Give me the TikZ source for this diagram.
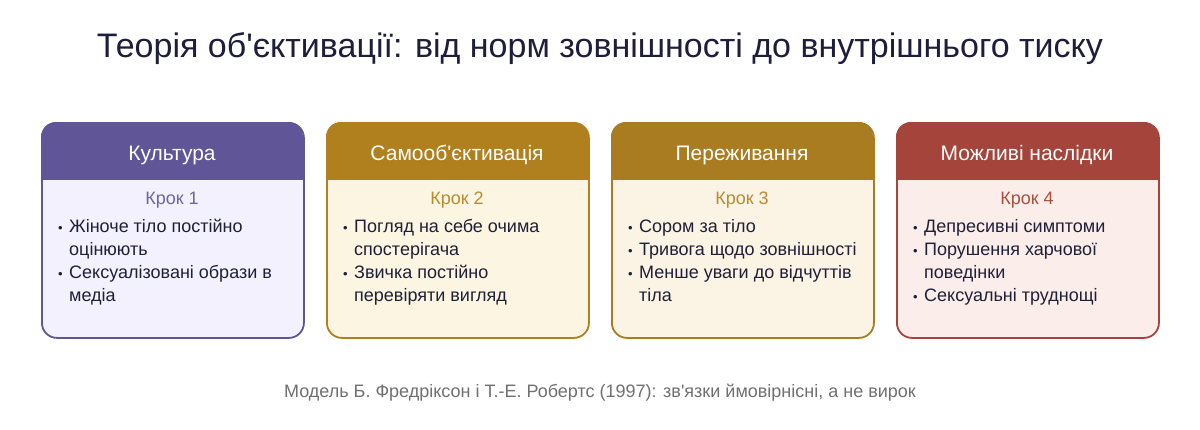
\documentclass[tikz,border=0pt]{standalone}
\usepackage{fontspec}
\setmainfont{Liberation Sans}[Ligatures=TeXOff]
\definecolor{titlec}{HTML}{1E1E3C}
\definecolor{txt}{HTML}{1F1F38}
\definecolor{foot}{HTML}{707070}
\definecolor{hA}{HTML}{5F5597}\definecolor{bA}{HTML}{F3F1FD}\definecolor{kA}{HTML}{6F679F}
\definecolor{hB}{HTML}{B0801F}\definecolor{bB}{HTML}{FCF5E1}\definecolor{kB}{HTML}{B88B30}
\definecolor{hC}{HTML}{A97C22}\definecolor{bC}{HTML}{FBF3E3}\definecolor{kC}{HTML}{B68C35}
\definecolor{hD}{HTML}{A4443A}\definecolor{bD}{HTML}{FBEDEA}\definecolor{kD}{HTML}{A9503F}
\tikzset{
  hdrtext/.style={font=\fontsize{21}{24}\selectfont, text=white, inner sep=0, anchor=base},
  steptext/.style={font=\fontsize{18}{20}\selectfont, inner sep=0, anchor=base},
  bultext/.style={font=\fontsize{18}{20}\selectfont, text=txt, anchor=base west, inner sep=0},
}
\newcommand{\bul}{\fontsize{13}{13}\selectfont•}
\newcommand{\cardbox}[6]{% name, x, header color, body color, step color, title
  \begin{scope}
    \clip[rounded corners=15pt] (#2,122) rectangle ++(262,215);
    \fill[#4] (#2,122) rectangle ++(262,215);
    \fill[#3] (#2,122) rectangle ++(262,58);
  \end{scope}
  \node[draw=#3, line width=1.8pt, rounded corners=15pt, minimum width=262pt, minimum height=215pt, inner sep=0, anchor=north west] (#1) at (#2,122) {};
  \node[hdrtext] (#1h) at (#2+131,160.5) {#6};
}
\begin{document}
\begin{tikzpicture}[x=1pt,y=-1pt]
\useasboundingbox (0,0) rectangle (1200,429);
\fill[white] (0,0) rectangle (1200,429);
\node[font=\fontsize{34}{38}\selectfont, text=titlec, inner sep=0] (title) at (600,49) {Теорія об'єктивації: від норм зовнішності до внутрішнього тиску};

\cardbox{c1}{41}{hA}{bA}{kA}{Культура}
\cardbox{c2}{326}{hB}{bB}{kB}{Самооб'єктивація}
\cardbox{c3}{611}{hC}{bC}{kC}{Переживання}
\cardbox{c4}{896}{hD}{bD}{kD}{Можливі наслідки}

\node[steptext, text=kA] (s1) at (172,204.5) {Крок 1};
\node[steptext, text=kB] (s2) at (457,204.5) {Крок 2};
\node[steptext, text=kC] (s3) at (742,204.5) {Крок 3};
\node[steptext, text=kD] (s4) at (1027,204.5) {Крок 4};

% card 1
\node[bultext] (b1a) at (58,232.5) {\bul};
\node[bultext] (t1a) at (69,232.5) {Жіноче тіло постійно};
\node[bultext] (t1b) at (69,255.5) {оцінюють};
\node[bultext] (b1c) at (58,278.5) {\bul};
\node[bultext] (t1c) at (69,278.5) {Сексуалізовані образи в};
\node[bultext] (t1d) at (69,301.5) {медіа};
% card 2
\node[bultext] (b2a) at (343,232.5) {\bul};
\node[bultext] (t2a) at (354,232.5) {Погляд на себе очима};
\node[bultext] (t2b) at (354,255.5) {спостерігача};
\node[bultext] (b2c) at (343,278.5) {\bul};
\node[bultext] (t2c) at (354,278.5) {Звичка постійно};
\node[bultext] (t2d) at (354,301.5) {перевіряти вигляд};
% card 3
\node[bultext] (b3a) at (628,232.5) {\bul};
\node[bultext] (t3a) at (639,232.5) {Сором за тіло};
\node[bultext] (b3b) at (628,255.5) {\bul};
\node[bultext] (t3b) at (639,255.5) {Тривога щодо зовнішності};
\node[bultext] (b3c) at (628,278.5) {\bul};
\node[bultext] (t3c) at (639,278.5) {Менше уваги до відчуттів};
\node[bultext] (t3d) at (639,301.5) {тіла};
% card 4
\node[bultext] (b4a) at (913,232.5) {\bul};
\node[bultext] (t4a) at (924,232.5) {Депресивні симптоми};
\node[bultext] (b4b) at (913,255.5) {\bul};
\node[bultext] (t4b) at (924,255.5) {Порушення харчової};
\node[bultext] (t4c) at (924,278.5) {поведінки};
\node[bultext] (b4d) at (913,301.5) {\bul};
\node[bultext] (t4d) at (924,301.5) {Сексуальні труднощі};

\node[font=\fontsize{18}{20}\selectfont, text=foot, inner sep=0] (foot) at (600,393) {Модель Б. Фредріксон і Т.-Е. Робертс (1997): зв'язки ймовірнісні, а не вирок};
\end{tikzpicture}
\end{document}
